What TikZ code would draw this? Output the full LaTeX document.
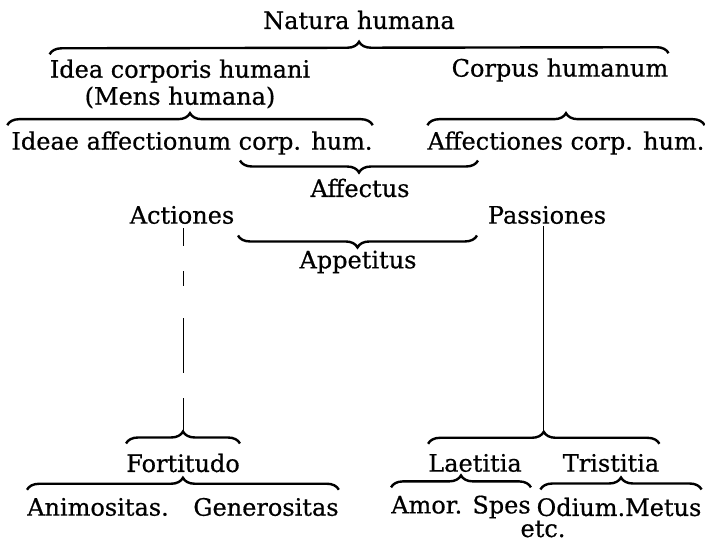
\documentclass[tikz,border=0pt]{standalone}
\usepackage{fontspec}
\setmainfont{DejaVu Serif}[FakeBold=0.6]
\usepackage{tikz}
\usetikzlibrary{decorations.pathreplacing,calc}

\begin{document}
\begin{tikzpicture}[x=1pt, y=1pt,
    term/.style={inner sep=0pt, font=\fontsize{24}{27}\selectfont, align=center},
    brace/.style={decorate, decoration={brace, amplitude=12pt}, line width=2.4pt},
    solidline/.style={draw, line width=0.9pt},
    brokenline/.style={draw, line width=0.9pt, dash pattern=on 18pt off 25pt on 15pt off 32pt on 55pt off 25pt on 33pt off 10pt}
]
    \useasboundingbox (0,0) rectangle (705,548);

    % Nodes (top to bottom)
    \node[term] (natura) at (359,528) {Natura humana};
    \node[term] (idea) at (180,464) {Idea corporis humani\\(Mens humana)};
    \node[term] (corpus) at (560,478) {Corpus humanum};

    \node[term] (ideae) at (192,405) {Ideae affectionum corp. hum.};
    \node[term] (affectiones) at (566,405) {Affectiones corp. hum.};

    \node[term] (affectus) at (360,360) {Affectus};
    \node[term] (actiones) at (182,333) {Actiones};
    \node[term] (passiones) at (547,333) {Passiones};
    \node[term] (appetitus) at (358,286) {Appetitus};

    \node[term] (fortitudo) at (183,85) {Fortitudo};
    \node[term] (laetitia) at (475,85) {Laetitia};
    \node[term] (tristitia) at (611,85) {Tristitia};

    \node[term] (animositas) at (98,41) {Animositas.};
    \node[term] (generositas) at (266,41) {Generositas};
    \node[term] (amor) at (461,41) {Amor. Spes};
    \node[term] (odium) at (619,41) {Odium.Metus};
    \node[term] (etc) at (543,19) {etc.};

    % Braces (tip up: left to right, tip down: right to left)
    \draw[brace] ([yshift=5pt]idea.north west) -- ([yshift=5pt]corpus.north east);
    \draw[brace] ([shift={(-4pt,6pt)}]ideae.north west) -- ([yshift=6pt]ideae.north east);
    \draw[brace] ([yshift=6pt]affectiones.north west) -- ([yshift=6pt]affectiones.north east);
    \draw[brace] ([shift={(118pt,18pt)}]affectus.north) -- ([shift={(-120pt,18pt)}]affectus.north);
    \draw[brace] ([shift={(119pt,15pt)}]appetitus.north) -- ([shift={(-120pt,15pt)}]appetitus.north);

    \draw[brace] ([yshift=10pt]fortitudo.north west) -- ([yshift=10pt]fortitudo.north east);
    \draw[brace] ([yshift=10pt]laetitia.north west) -- ([yshift=10pt]tristitia.north east);
    \draw[brace] ([yshift=8pt]animositas.north west) -- ([yshift=8pt]generositas.north east);
    \draw[brace] ([yshift=8pt]amor.north west) -- ([yshift=8pt]amor.north east);
    \draw[brace] ([shift={(4pt,8pt)}]odium.north west) -- ([yshift=8pt]odium.north east);

    % Brace tips below
    \coordinate (fortTip) at ([yshift=22pt]fortitudo.north);
    \coordinate (laetTip) at ($($(laetitia.north west)!0.5!(tristitia.north east)$)+(0,22pt)$);

    % Lines
    \path[brokenline] ([yshift=-4pt]actiones.south -| fortTip) -- (fortTip);
    \path[solidline] ([yshift=-2pt]passiones.south -| laetTip) -- (laetTip);
\end{tikzpicture}
\end{document}
